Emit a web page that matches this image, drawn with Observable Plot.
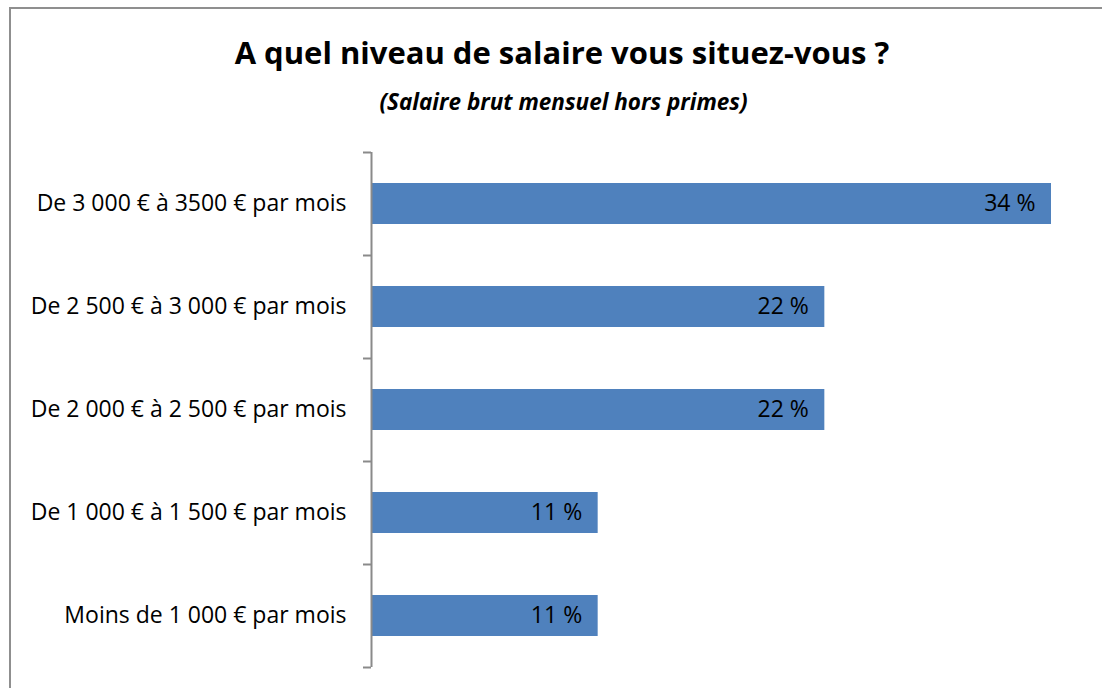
<!DOCTYPE html>
<html>
<head>
<meta charset="utf-8">
<script src="https://cdn.jsdelivr.net/npm/d3@7"></script>
<script src="https://cdn.jsdelivr.net/npm/@observablehq/plot@0.6"></script>
<style>
  html, body { margin: 0; padding: 0; background: #fff; width: 1102px; height: 688px; overflow: hidden; }
  #frame { position: absolute; left: 9px; top: 7px; width: 1200px; height: 800px; border: 2px solid #8f8f8f; box-sizing: border-box; }
  #title { position: absolute; left: 0; width: 1124px; top: 32px; text-align: center; font-family: "Open Sans", sans-serif; font-weight: bold; font-size: 31px; line-height: 40px; color: #000; }
  #subtitle { position: absolute; left: 0; width: 1127px; top: 88px; text-align: center; font-family: "Open Sans", sans-serif; font-weight: bold; font-style: italic; font-size: 22.5px; line-height: 28px; color: #000; }
  #chart { position: absolute; left: 0; top: 0; }
</style>
</head>
<body>
<div id="frame"></div>
<div id="title">A quel niveau de salaire vous situez-vous ?</div>
<div id="subtitle">(Salaire brut mensuel hors primes)</div>
<div id="chart"></div>
<script>
const categories = [
  "De 3 000 € à 3500 € par mois",
  "De 2 500 € à 3 000 € par mois",
  "De 2 000 € à 2 500 € par mois",
  "De 1 000 € à 1 500 € par mois",
  "Moins de 1 000 € par mois"
];
const values = [33.3, 22.2, 22.2, 11.1, 11.1];
const labels = ["34 %", "22 %", "22 %", "11 %", "11 %"];

const data = categories.map((c, i) => ({category: c, value: values[i], label: labels[i]}));

const plot = Plot.plot({
  width: 1102,
  height: 688,
  marginLeft: 371,
  marginRight: 51,
  marginTop: 152,
  marginBottom: 21,
  style: {fontFamily: "'Open Sans', sans-serif", fontSize: "23px", color: "#000", background: "transparent"},
  x: {domain: [0, 33.3], axis: null},
  y: {domain: categories, padding: 0, axis: null},
  marks: [
    Plot.barX(data, {x: "value", y: "category", fill: "#4f81bd", insetTop: 31, insetBottom: 31}),
    Plot.text(data, {x: "value", y: "category", text: "label", textAnchor: "end", dx: -16, fill: "#000", fontSize: 23}),
    Plot.axisY({tickSize: 0, tickPadding: 25, fontSize: 23, fill: "#000", label: null}),
    Plot.axisY({tickSize: 8, text: null, dy: -51.5, stroke: "#8a8a8a", strokeWidth: 2, label: null}),
    Plot.axisY({ticks: [categories[categories.length - 1]], tickSize: 8, text: null, dy: 51.5, stroke: "#8a8a8a", strokeWidth: 2, label: null}),
    Plot.ruleX([0], {stroke: "#8a8a8a", strokeWidth: 2})
  ]
});
document.getElementById("chart").appendChild(plot);
</script>
</body>
</html>
